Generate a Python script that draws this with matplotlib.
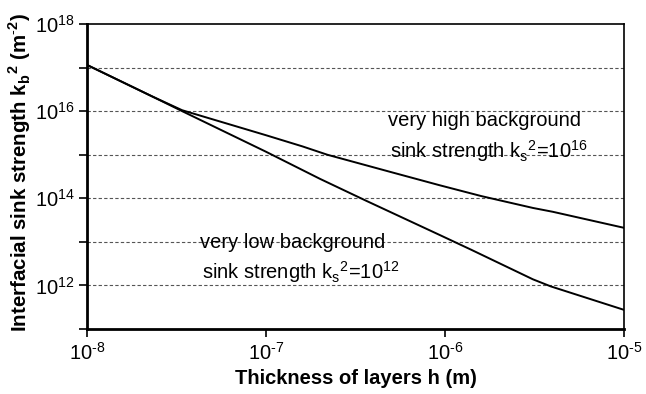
import numpy as np
import matplotlib
matplotlib.use("Agg")
import matplotlib.pyplot as plt
from matplotlib.ticker import FixedLocator, NullLocator

plt.rcParams["font.family"] = ["Liberation Sans", "DejaVu Sans"]
plt.rcParams["mathtext.fontset"] = "custom"
plt.rcParams["mathtext.rm"] = "Liberation Sans"
plt.rcParams["mathtext.bf"] = "Liberation Sans:bold"

# Layer thickness h (m) and interfacial sink strength kb^2 (m^-2)
h_low = [1e-8, 2.3e-8, 3.4e-8, 1.0e-7, 2.0e-7, 3.6e-7, 9.3e-7, 1.4e-6, 3.1e-6, 3.9e-6, 1e-5]
kb2_low = [1.15e17, 2.2e16, 1.0e16, 1.17e15, 2.8e14, 8.9e13, 1.45e13, 6.6e12, 1.38e12, 9.5e11, 2.75e11]

h_high = [1e-8, 2.3e-8, 3.4e-8, 1.0e-7, 1.6e-7, 2.2e-7, 5.1e-7, 9.3e-7, 1.6e-6, 3.1e-6, 4.0e-6, 1e-5]
kb2_high = [1.15e17, 2.2e16, 1.05e16, 2.8e15, 1.55e15, 1.0e15, 3.9e14, 2.0e14, 1.12e14, 6.0e13, 4.9e13, 2.1e13]

y_major = [1e11, 1e12, 1e13, 1e14, 1e15, 1e16, 1e17, 1e18]
y_labels = ["", "$10^{12}$", "", "$10^{14}$", "", "$10^{16}$", "", "$10^{18}$"]
x_major = [1e-8, 1e-7, 1e-6, 1e-5]
x_labels = [r"$10^{\text{-}8}$", r"$10^{\text{-}7}$", r"$10^{\text{-}6}$", r"$10^{\text{-}5}$"]

W, H = 646, 394
fig = plt.figure(figsize=(W / 100, H / 100), dpi=100)
ax = fig.add_axes([87 / W, 1 - 329 / H, (624 - 87) / W, (329 - 24) / H])

ax.plot(h_high, kb2_high, color="black", lw=1.4)
ax.plot(h_low, kb2_low, color="black", lw=1.4)

ax.set_xscale("log")
ax.set_yscale("log")
ax.set_xlim(1e-8, 1e-5)
ax.set_ylim(1e11, 1e18)

ax.yaxis.set_major_locator(FixedLocator(y_major))
ax.set_yticklabels(y_labels)
ax.yaxis.set_minor_locator(NullLocator())
ax.xaxis.set_major_locator(FixedLocator(x_major))
ax.set_xticklabels(x_labels)
ax.xaxis.set_minor_locator(NullLocator())

for yv in y_major[1:-1]:
    ax.axhline(yv, color="#555555", lw=0.8, ls=(0, (3, 2)), zorder=0)

ax.tick_params(axis="both", direction="out", length=6, width=1.2,
               labelsize=14.5, colors="black", pad=3)
for side in ["left", "bottom"]:
    ax.spines[side].set_linewidth(2.0)
for side in ["top", "right"]:
    ax.spines[side].set_linewidth(1.2)

ax.set_xlabel("Thickness of layers h (m)", fontsize=14.5, fontweight="bold", labelpad=4)
ax.set_ylabel(r"Interfacial sink strength k$_\mathbf{b}$$^\mathbf{2}$ (m$^\mathbf{\text{-}2}$)",
              fontsize=14.8, fontweight="bold")
ax.yaxis.set_label_coords(-0.1, 0.513)


def px_text(x, y, s):
    # place text by pixel position measured from the top-left of the image
    fig.text(x / W, 1 - y / H, s, fontsize=14.5, va="center", ha="left")


px_text(388, 120, "very high background")
px_text(390, 151, "sink strength k$_\\mathrm{s}$$^\\mathrm{2}$=10$^{16}$")
px_text(200, 243, "very low background")
px_text(202, 272, "sink strength k$_\\mathrm{s}$$^\\mathrm{2}$=10$^{12}$")

fig.savefig("out.png", dpi=100)
